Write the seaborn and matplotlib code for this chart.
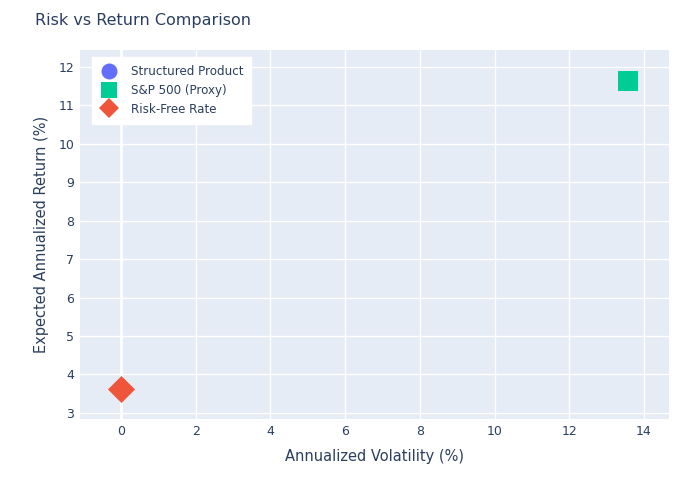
import numpy as np
import pandas as pd
import matplotlib
matplotlib.use("Agg")
import matplotlib.pyplot as plt
from matplotlib.lines import Line2D
import seaborn as sns

# Data
names = ["Structured Product", "S&P 500 (Proxy)", "Risk-Free Rate"]
volatility = [np.nan, 13.57, 0.0]   # structured product has no plotted point
returns = [np.nan, 11.64, 3.62]
colors = ["#636efa", "#00cc96", "#EF553B"]
markers = ["o", "s", "D"]

df = pd.DataFrame({"name": names, "vol": volatility, "ret": returns})

text_color = "#2a3f5f"
sns.set_theme(style="darkgrid", rc={
    "axes.facecolor": "#E5ECF6",
    "grid.color": "white",
    "grid.linewidth": 1.0,
})
plt.rcParams["font.family"] = ["DejaVu Sans"]

fig = plt.figure(figsize=(7, 5), dpi=100)
ax = fig.add_axes([80 / 700, 81 / 500, 589 / 700, 369 / 500])

sizes = [200, 210, 190]
for n, c, m, s in zip(names, colors, markers, sizes):
    sub = df[df["name"] == n].dropna()
    if len(sub):
        sns.scatterplot(data=sub, x="vol", y="ret", color=c, marker=m, s=s,
                        linewidth=0, ax=ax, legend=False, zorder=3)

ax.set_xlim(-1.1, 14.67)
ax.set_ylim(2.84, 12.44)
ax.set_xticks(range(0, 15, 2))
ax.set_yticks(range(3, 13))
ax.axvline(0, color="white", linewidth=2, zorder=1)
for sp in ax.spines.values():
    sp.set_visible(False)
ax.tick_params(colors=text_color, labelsize=9, length=0, pad=4)

ax.set_xlabel("Annualized Volatility (%)", color=text_color, fontsize=10.5, labelpad=8)
ax.set_ylabel("Expected Annualized Return (%)", color=text_color, fontsize=10.5, labelpad=7)
fig.text(35 / 700, 1 - 20 / 500, "Risk vs Return Comparison", color=text_color,
         fontsize=11.5, va="center", ha="left")

handles = [Line2D([0], [0], marker=m, color="none", markerfacecolor=c,
                  markeredgewidth=0, markersize=ms, label=n)
           for n, c, m, ms in zip(names, colors, markers, [11.5, 11.5, 10.5])]
leg = ax.legend(handles=handles, loc="upper left", bbox_to_anchor=(0.02, 0.981),
                borderaxespad=0, frameon=True, fancybox=False, framealpha=1,
                edgecolor="white", facecolor="white", fontsize=8.6,
                labelcolor=text_color, handlelength=1.5, handletextpad=1.05,
                labelspacing=0.47, borderpad=0.7)

fig.savefig("out.png", dpi=100)
